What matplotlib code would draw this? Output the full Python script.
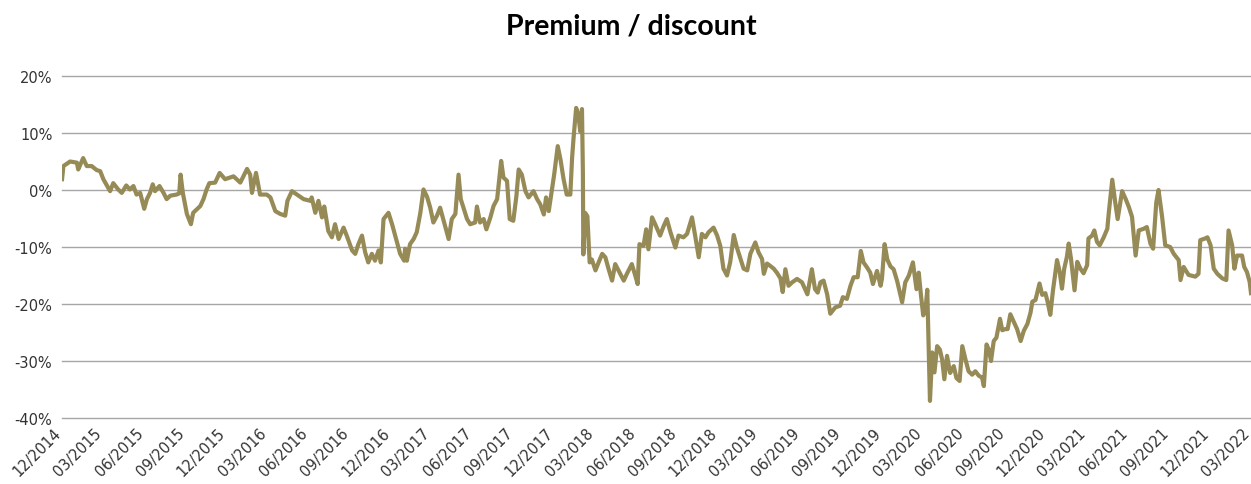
import pandas as pd
import matplotlib
matplotlib.use("Agg")
import matplotlib.pyplot as plt
import matplotlib.dates as mdates
from matplotlib.ticker import FuncFormatter

# premium / discount readings (percent)
dates = [
    "2014-12-01", "2014-12-04", "2014-12-19", "2015-01-03", "2015-01-06", "2015-01-17", "2015-01-25",
    "2015-02-05", "2015-02-16", "2015-02-24", "2015-03-03", "2015-03-18", "2015-03-25", "2015-04-05",
    "2015-04-13", "2015-04-23", "2015-05-01", "2015-05-09", "2015-05-16", "2015-05-24", "2015-06-02",
    "2015-06-08", "2015-06-15", "2015-06-21", "2015-06-26", "2015-07-06", "2015-07-15", "2015-07-22",
    "2015-07-30", "2015-08-13", "2015-08-19", "2015-08-22", "2015-08-27", "2015-09-05", "2015-09-14",
    "2015-09-19", "2015-10-05", "2015-10-12", "2015-10-19", "2015-10-25", "2015-11-07", "2015-11-17",
    "2015-11-29", "2015-12-18", "2016-01-02", "2016-01-17", "2016-01-24", "2016-01-28", "2016-02-06",
    "2016-02-15", "2016-03-01", "2016-03-09", "2016-03-20", "2016-03-31", "2016-04-11", "2016-04-16",
    "2016-04-26", "2016-05-07", "2016-05-22", "2016-06-06", "2016-06-09", "2016-06-17", "2016-06-24",
    "2016-07-02", "2016-07-07", "2016-07-16", "2016-07-24", "2016-07-31", "2016-08-08", "2016-08-19",
    "2016-08-26", "2016-09-07", "2016-09-14", "2016-09-21", "2016-09-29", "2016-10-06", "2016-10-13",
    "2016-10-21", "2016-10-28", "2016-11-05", "2016-11-10", "2016-11-16", "2016-11-27", "2016-12-05",
    "2016-12-16", "2016-12-23", "2017-01-01", "2017-01-03", "2017-01-07", "2017-01-14", "2017-01-22",
    "2017-01-29", "2017-02-06", "2017-02-13", "2017-02-21", "2017-02-28", "2017-03-07", "2017-03-15",
    "2017-03-22", "2017-03-30", "2017-04-10", "2017-04-17", "2017-04-25", "2017-05-02", "2017-05-07",
    "2017-05-13", "2017-05-21", "2017-05-28", "2017-06-08", "2017-06-12", "2017-06-19", "2017-06-27",
    "2017-07-03", "2017-07-12", "2017-07-19", "2017-07-27", "2017-08-05", "2017-08-10", "2017-08-18",
    "2017-08-24", "2017-09-01", "2017-09-08", "2017-09-13", "2017-09-20", "2017-09-28", "2017-10-05",
    "2017-10-16", "2017-10-24", "2017-10-31", "2017-11-08", "2017-11-13", "2017-11-19", "2017-11-26",
    "2017-12-01", "2017-12-09", "2017-12-15", "2017-12-22", "2017-12-29", "2018-01-06", "2018-01-10",
    "2018-01-13", "2018-01-19", "2018-01-24", "2018-01-28", "2018-02-01", "2018-02-03", "2018-02-04",
    "2018-02-08", "2018-02-13", "2018-02-18", "2018-02-23", "2018-03-03", "2018-03-10", "2018-03-18",
    "2018-03-25", "2018-04-01", "2018-04-09", "2018-04-16", "2018-04-27", "2018-05-05", "2018-05-12",
    "2018-05-23", "2018-05-31", "2018-06-05", "2018-06-09", "2018-06-18", "2018-06-24", "2018-06-29",
    "2018-07-07", "2018-07-14", "2018-07-25", "2018-08-02", "2018-08-09", "2018-08-17", "2018-08-28",
    "2018-09-04", "2018-09-15", "2018-09-23", "2018-10-04", "2018-10-11", "2018-10-19", "2018-10-26",
    "2018-11-03", "2018-11-10", "2018-11-21", "2018-11-29", "2018-12-06", "2018-12-13", "2018-12-21",
    "2018-12-28", "2019-01-05", "2019-01-12", "2019-01-20", "2019-01-27", "2019-02-04", "2019-02-11",
    "2019-02-22", "2019-03-01", "2019-03-09", "2019-03-13", "2019-03-20", "2019-03-27", "2019-04-04",
    "2019-04-11", "2019-04-19", "2019-04-24", "2019-04-30", "2019-05-07", "2019-05-15", "2019-05-26",
    "2019-06-06", "2019-06-13", "2019-06-18", "2019-06-28", "2019-07-05", "2019-07-11", "2019-07-17",
    "2019-07-24", "2019-08-01", "2019-08-08", "2019-08-19", "2019-08-30", "2019-09-05", "2019-09-14",
    "2019-09-22", "2019-09-29", "2019-10-08", "2019-10-15", "2019-10-21", "2019-10-29", "2019-11-05",
    "2019-11-11", "2019-11-20", "2019-11-28", "2019-12-01", "2019-12-07", "2019-12-13", "2019-12-20",
    "2019-12-27", "2020-01-04", "2020-01-15", "2020-01-22", "2020-01-30", "2020-02-08", "2020-02-16",
    "2020-02-21", "2020-02-26", "2020-03-02", "2020-03-07", "2020-03-11", "2020-03-14", "2020-03-17",
    "2020-03-22", "2020-03-27", "2020-04-02", "2020-04-08", "2020-04-13", "2020-04-18", "2020-04-24",
    "2020-05-01", "2020-05-09", "2020-05-15", "2020-05-22", "2020-05-28", "2020-06-04", "2020-06-11",
    "2020-06-19", "2020-06-26", "2020-07-04", "2020-07-11", "2020-07-15", "2020-07-21", "2020-07-26",
    "2020-07-31", "2020-08-06", "2020-08-12", "2020-08-20", "2020-08-25", "2020-09-01", "2020-09-06",
    "2020-09-12", "2020-09-20", "2020-09-27", "2020-10-05", "2020-10-12", "2020-10-20", "2020-10-27",
    "2020-10-31", "2020-11-07", "2020-11-16", "2020-11-22", "2020-11-29", "2020-12-04", "2020-12-10",
    "2020-12-16", "2020-12-25", "2020-12-31", "2021-01-05", "2021-01-10", "2021-01-16", "2021-01-20",
    "2021-01-25", "2021-02-02", "2021-02-08", "2021-02-15", "2021-02-22", "2021-03-02", "2021-03-05",
    "2021-03-13", "2021-03-18", "2021-03-24", "2021-03-30", "2021-04-08", "2021-04-16", "2021-04-19",
    "2021-04-27", "2021-05-04", "2021-05-09", "2021-05-19", "2021-05-27", "2021-06-03", "2021-06-10",
    "2021-06-18", "2021-06-25", "2021-07-06", "2021-07-13", "2021-07-21", "2021-07-27", "2021-08-03",
    "2021-08-08", "2021-08-16", "2021-08-23", "2021-09-03", "2021-09-11", "2021-09-22", "2021-09-26",
    "2021-10-03", "2021-10-14", "2021-10-29", "2021-11-05", "2021-11-09", "2021-11-20", "2021-11-25",
    "2021-12-02", "2021-12-09", "2021-12-17", "2021-12-28", "2022-01-06", "2022-01-11", "2022-01-19",
    "2022-01-24", "2022-01-30", "2022-02-10", "2022-02-15", "2022-02-21", "2022-02-27", "2022-03-02",
]
premium = [
    1.9, 4.2, 5.0, 4.8, 3.6, 5.6, 4.2,
    4.2, 3.5, 3.3, 1.9, -0.2, 1.2, 0.1,
    -0.5, 0.8, 0.1, 0.7, -0.8, -0.5, -3.3,
    -1.6, -0.5, 1.0, -0.2, 0.7, -0.5, -1.6,
    -1.0, -0.8, -0.6, 2.7, -0.5, -4.2, -6.0,
    -4.0, -2.8, -1.6, 0.1, 1.2, 1.3, 3.0,
    1.9, 2.4, 1.3, 3.7, 2.7, -0.5, 3.0,
    -0.8, -0.8, -1.3, -3.7, -4.2, -4.5, -1.9,
    -0.2, -0.8, -1.6, -1.9, -1.3, -4.0, -1.9,
    -4.8, -2.9, -7.2, -8.3, -6.0, -8.6, -6.6,
    -8.0, -10.6, -11.2, -9.5, -8.0, -10.9, -12.7,
    -11.2, -12.4, -10.6, -12.7, -5.1, -4.0, -6.0,
    -9.2, -11.2, -12.4, -10.3, -12.4, -9.5, -8.6,
    -7.4, -4.0, 0.1, -1.2, -3.1, -5.7, -4.5,
    -3.1, -5.4, -8.6, -5.1, -4.2, 2.7, -1.6,
    -3.1, -5.1, -6.0, -5.7, -2.9, -5.7, -5.1,
    -6.9, -4.8, -2.8, -1.6, 5.1, 2.2, 1.6,
    -5.1, -5.4, -1.0, 3.6, 2.7, -0.2, -1.3,
    -0.2, -1.6, -2.5, -4.3, -1.3, -3.7, 0.1,
    2.7, 7.7, 5.4, 1.9, -0.8, -0.8, 5.7,
    8.9, 14.4, 13.2, 10.3, 14.2, 3.0, -11.3,
    -4.0, -4.6, -12.7, -12.2, -14.1, -12.7, -11.2,
    -11.8, -13.8, -15.9, -13.0, -14.7, -15.9, -14.7,
    -13.0, -15.1, -16.5, -9.5, -9.8, -6.9, -10.4,
    -4.8, -6.0, -8.0, -6.3, -5.1, -7.4, -10.1,
    -8.0, -8.3, -7.7, -4.8, -8.0, -11.8, -7.7,
    -8.3, -7.4, -6.6, -8.0, -9.8, -13.8, -15.0,
    -12.7, -7.9, -10.1, -12.1, -13.8, -14.1, -11.2,
    -9.2, -10.9, -12.1, -14.7, -12.9, -13.3, -13.8,
    -14.5, -15.5, -17.9, -13.9, -16.8, -16.2, -15.6,
    -16.2, -17.4, -18.3, -13.9, -17.4, -18.0, -16.2,
    -15.9, -18.3, -21.7, -20.6, -20.3, -18.8, -19.1,
    -16.8, -15.3, -15.3, -10.7, -12.7, -13.6, -14.5,
    -16.5, -14.2, -16.8, -15.6, -9.5, -12.2, -13.4,
    -13.9, -16.0, -19.7, -16.2, -15.0, -12.7, -17.4,
    -14.5, -18.5, -22.0, -21.0, -17.5, -27.0, -37.0,
    -28.5, -32.0, -27.4, -28.0, -29.7, -33.2, -29.1,
    -32.1, -30.9, -33.0, -33.5, -27.4, -29.7, -31.8,
    -32.4, -31.8, -32.6, -32.9, -34.4, -27.1, -28.0,
    -30.0, -26.5, -25.9, -22.6, -24.6, -24.4, -24.4,
    -21.8, -23.2, -24.4, -26.5, -24.7, -23.5, -21.5,
    -19.6, -19.3, -16.4, -18.4, -18.1, -19.6, -21.9,
    -17.6, -12.3, -14.4, -17.3, -13.8, -11.7, -9.4,
    -12.0, -17.6, -12.6, -13.8, -14.6, -13.2, -8.5,
    -8.0, -7.1, -9.1, -9.7, -8.3, -6.8, -4.2,
    1.8, -2.4, -5.1, -0.2, -1.6, -3.0, -4.7,
    -11.5, -7.1, -6.8, -6.5, -9.4, -10.3, -2.2,
    0.0, -4.7, -9.7, -10.0, -11.2, -12.3, -15.8,
    -13.5, -14.9, -15.2, -14.7, -8.8, -8.5, -8.3,
    -9.7, -13.8, -14.7, -15.5, -15.8, -7.1, -9.7,
    -13.8, -11.5, -11.5, -13.5, -14.4, -16.1, -18.1,
]
tick_dates = pd.date_range("2014-12-01", "2022-03-01", freq="3MS")
y_ticks = [20, 10, 0, -10, -20, -30, -40]

x = pd.to_datetime(dates)

fig = plt.figure(figsize=(12.51, 4.85), dpi=100)
ax = fig.add_axes([0.0496, 0.1361, 0.9504, 0.7051])

ax.plot(x, premium, color="#968A56", linewidth=3.0, solid_joinstyle="round", zorder=3)

ax.set_ylim(-40, 20)
ax.set_yticks(y_ticks)
ax.yaxis.set_major_formatter(FuncFormatter(lambda v, p: "%d%%" % v))
ax.set_xlim(pd.Timestamp("2014-12-01"), pd.Timestamp("2022-03-02"))
ax.set_xticks(tick_dates)
ax.xaxis.set_major_formatter(mdates.DateFormatter("%m/%Y"))

ax.grid(axis="y", color="#A6A6A6", linewidth=1.0)
for gl in ax.get_ygridlines():
    gl.set_clip_on(False)
ax.set_axisbelow(True)
for s in ax.spines.values():
    s.set_visible(False)
ax.tick_params(axis="both", length=0, labelsize=10.5, colors="#333333")
ax.tick_params(axis="x", pad=11)
ax.tick_params(axis="y", pad=7)
# anchor rotated labels at their baseline end so they end on the tick
plt.setp(ax.get_xticklabels(), rotation=45, ha="right", va="baseline", rotation_mode="anchor")

fig.text(0.505, 0.945, "Premium / discount", ha="center", va="center",
         fontsize=20.5, fontweight="bold", fontfamily="Lato", color="black")

fig.savefig("out.png", dpi=100)
